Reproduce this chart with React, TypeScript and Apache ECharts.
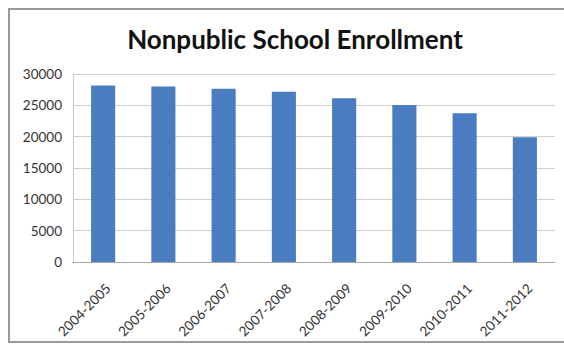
import React, { useEffect, useRef } from "react";
import * as echarts from "echarts";

const categories = [
  "2004-2005",
  "2005-2006",
  "2006-2007",
  "2007-2008",
  "2008-2009",
  "2009-2010",
  "2010-2011",
  "2011-2012",
];
const enrollment = [28150, 28000, 27650, 27150, 26150, 25050, 23750, 19900];
const yTicks = { min: 0, max: 30000, interval: 5000 };
const titleText = "Nonpublic School Enrollment";

export default function App() {
  const ref = useRef<HTMLDivElement>(null);
  useEffect(() => {
    document.body.style.margin = "0";
    document.body.style.overflow = "hidden";
    if (!ref.current) return;
    const chart = echarts.init(ref.current, null, { renderer: "svg" });
    const font = "Lato, 'Open Sans', sans-serif";
    const frame = { stroke: "#9a9a9a", lineWidth: 2 };
    chart.setOption({
      animation: false,
      backgroundColor: "#ffffff",
      title: {
        text: titleText,
        left: 290,
        top: 21,
        textAlign: "center",
        textStyle: {
          fontFamily: font,
          fontWeight: "bold",
          fontSize: 26,
          color: "#111111",
        },
      },
      graphic: [
        { type: "line", shape: { x1: 9, y1: 9, x2: 564, y2: 9 }, style: frame, silent: true },
        { type: "line", shape: { x1: 9, y1: 8, x2: 9, y2: 343 }, style: frame, silent: true },
        { type: "line", shape: { x1: 9, y1: 342, x2: 564, y2: 342 }, style: frame, silent: true },
      ],
      grid: { left: 73, right: 9, top: 74, bottom: 82, containLabel: false },
      xAxis: {
        type: "category",
        data: categories,
        axisLine: { show: true, lineStyle: { color: "#a6a6a6", width: 1 } },
        axisTick: { show: false },
        axisLabel: {
          rotate: 45,
          interval: 0,
          margin: 19,
          verticalAlign: "top",
          fontFamily: font,
          fontSize: 13.5,
          color: "#333333",
        },
      },
      yAxis: {
        type: "value",
        min: yTicks.min,
        max: yTicks.max,
        interval: yTicks.interval,
        axisLine: { show: true, lineStyle: { color: "#c8c8c8", width: 1 } },
        axisTick: { show: false },
        axisLabel: {
          margin: 11,
          fontFamily: font,
          fontSize: 13.5,
          color: "#333333",
          formatter: (v: number) => String(v),
        },
        splitLine: { show: true, lineStyle: { color: "#cfcfcf", width: 1 } },
      },
      series: [
        {
          type: "bar",
          data: enrollment,
          barWidth: "40%",
          itemStyle: { color: "#4a7dbf" },
        },
      ],
    });
    return () => chart.dispose();
  }, []);
  return <div ref={ref} style={{ width: 564, height: 344 }} />;
}
